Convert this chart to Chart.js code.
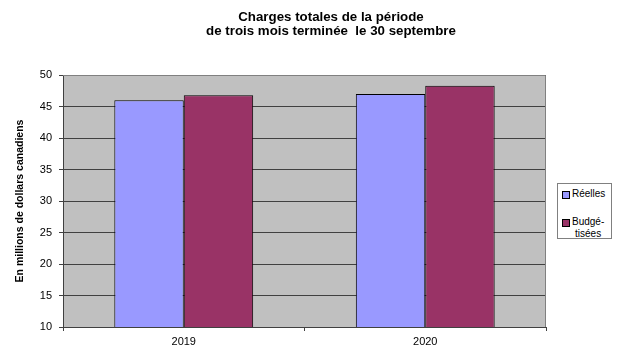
<!DOCTYPE html>
<html>
<head>
<meta charset="utf-8">
<script src="https://cdn.jsdelivr.net/npm/chart.js@4"></script>
<style>
  html, body { margin:0; padding:0; background:#fff; }
  #wrap { position:relative; width:617px; height:357px; font-family:"Liberation Sans", Arial, sans-serif; }
  #title { position:absolute; left:131px; width:400px; top:10px; text-align:center; font-weight:bold; font-size:13.3px; line-height:14px; color:#000; white-space:nowrap; }
  #legend { position:absolute; left:557px; top:183px; width:55px; height:56px; border:1px solid #808080; box-sizing:border-box; background:#fff; font-size:10px; color:#000; }
  .item { position:absolute; left:4px; display:flex; align-items:flex-start; line-height:11.5px; }
  .sw { width:6px; height:6px; border:1px solid #000; margin-top:3px; margin-right:2px; flex:none; }
  .lbl { text-align:center; }
</style>
</head>
<body>
<div id="wrap">
  <canvas id="c" width="617" height="357"></canvas>
  <div id="title">Charges totales de la période<br>de trois mois terminée&nbsp; le 30 septembre</div>
  <div id="legend"></div>
</div>
<script>
const categories = ["2019", "2020"];
const seriesNames = ["Réelles", "Budgétisées"];
const legendLabels = [["Réelles"], ["Budgé-", "tisées"]];
const reelles = [46.0, 47.0];
const budgetisees = [46.8, 48.3];
const seriesColors = ["#9999FF", "#993366"];
const yMin = 10, yMax = 50, yStep = 5;
const yTitle = "En millions de dollars canadiens";

const plotBg = {
  id: 'plotBg',
  beforeDraw(chart) {
    const {ctx, chartArea:a} = chart;
    ctx.save();
    ctx.fillStyle = '#C0C0C0';
    ctx.fillRect(a.left, a.top, a.right - a.left, a.bottom - a.top);
    ctx.restore();
  },
  afterDatasetsDraw(chart) {
    const {ctx, chartArea:a} = chart;
    ctx.save();
    ctx.strokeStyle = '#808080';
    ctx.lineWidth = 1;
    ctx.beginPath();
    ctx.moveTo(a.left, a.top + 0.5); ctx.lineTo(a.right - 0.5, a.top + 0.5); ctx.lineTo(a.right - 0.5, a.bottom);
    ctx.stroke();
    ctx.restore();
  }
};

const font = { family: '"Liberation Sans", Arial, sans-serif', size: 11 };

new Chart(document.getElementById('c'), {
  type: 'bar',
  data: {
    labels: categories,
    datasets: [
      { label: seriesNames[0], data: reelles, backgroundColor: seriesColors[0], borderColor: '#000', borderWidth: 1, borderSkipped: false },
      { label: seriesNames[1], data: budgetisees, backgroundColor: seriesColors[1], borderColor: '#000', borderWidth: 1, borderSkipped: false }
    ]
  },
  options: {
    responsive: false,
    devicePixelRatio: 1,
    animation: false,
    layout: { padding: { left: 0, right: 71, top: 75, bottom: 0 } },
    datasets: { bar: { categoryPercentage: 0.575, barPercentage: 1.0 } },
    plugins: { legend: { display: false }, title: { display: false }, tooltip: { enabled: false } },
    scales: {
      x: {
        afterFit(s) { s.height = 30; },
        grid: { display: true, offset: true, drawOnChartArea: false, drawTicks: true, tickLength: 4, color: '#404040' },
        border: { display: true, color: '#404040' },
        ticks: { font, color: '#000', padding: 4, maxRotation: 0 }
      },
      y: {
        min: yMin, max: yMax,
        afterFit(s) { s.width = 63; },
        grid: { color: '#404040', drawTicks: true, tickLength: 4 },
        border: { display: true, color: '#404040' },
        ticks: { stepSize: yStep, font, color: '#000', padding: 7 },
        title: { display: true, text: yTitle, color: '#000', font: { family: font.family, size: 10.5, weight: 'bold' }, padding: { top: 14, bottom: 0 } }
      }
    }
  },
  plugins: [plotBg]
});

const leg = document.getElementById('legend');
const tops = [4, 32];
legendLabels.forEach((lines, i) => {
  const it = document.createElement('div');
  it.className = 'item';
  it.style.top = tops[i] + 'px';
  const sw = document.createElement('div');
  sw.className = 'sw';
  sw.style.background = seriesColors[i];
  const lb = document.createElement('div');
  lb.className = 'lbl';
  lb.innerHTML = lines.join('<br>');
  it.appendChild(sw); it.appendChild(lb);
  leg.appendChild(it);
});
</script>
</body>
</html>
